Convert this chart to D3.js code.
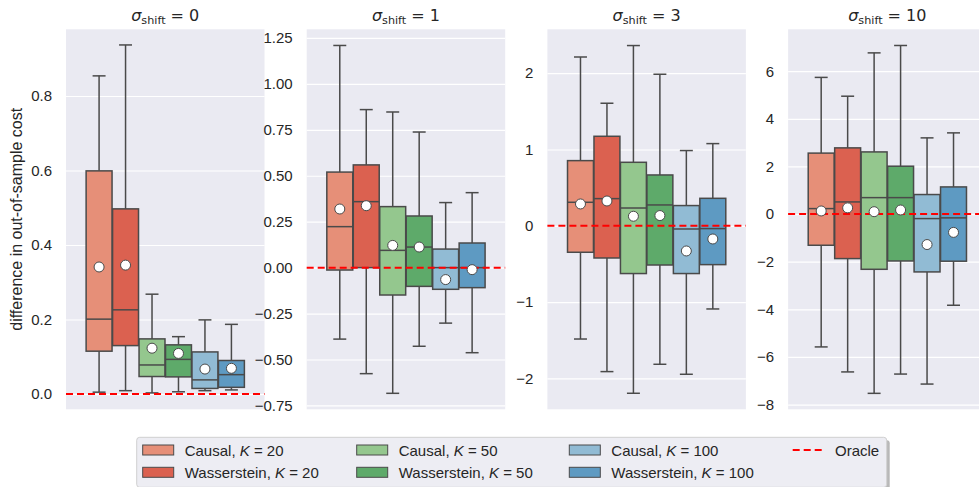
<!DOCTYPE html>
<html>
<head>
<meta charset="utf-8">
<script src="https://cdn.jsdelivr.net/npm/d3@7"></script>
<style>
body{margin:0;background:#fff}
svg{display:block;font-family:"Liberation Sans",Arial,sans-serif}
</style>
</head>
<body>
<svg id="chart" width="979" height="487"></svg>
<script>
// data
const shifts = [0, 1, 3, 10];
const methods = ["Causal", "Wasserstein", "Causal", "Wasserstein", "Causal", "Wasserstein"];
const kValues = [20, 20, 50, 50, 100, 100];

// one row per panel (sigma_shift), one value per method/K
const whiskLow = [
    [0.005, 0.009, 0.003, 0.006, 0.009, 0.011],
    [-0.389, -0.577, -0.684, -0.428, -0.302, -0.463],
    [-1.484, -1.911, -2.195, -1.815, -1.946, -1.090],
    [-5.58, -6.63, -7.53, -6.72, -7.14, -3.83]
];
const q1 = [
    [0.115, 0.130, 0.047, 0.046, 0.015, 0.018],
    [-0.013, 0.0, -0.149, -0.102, -0.118, -0.109],
    [-0.347, -0.422, -0.626, -0.514, -0.626, -0.509],
    [-1.31, -1.87, -2.32, -1.97, -2.43, -1.98]
];
const medians = [
    [0.201, 0.226, 0.078, 0.093, 0.038, 0.052],
    [0.223, 0.359, 0.094, 0.112, 0.0, 0.0],
    [0.308, 0.356, 0.233, 0.273, -0.042, -0.037],
    [0.23, 0.51, 0.69, 0.69, -0.19, -0.16]
];
const q3 = [
    [0.599, 0.497, 0.148, 0.132, 0.113, 0.090],
    [0.520, 0.559, 0.332, 0.281, 0.101, 0.134],
    [0.854, 1.173, 0.832, 0.666, 0.265, 0.360],
    [2.56, 2.78, 2.61, 2.01, 0.82, 1.14]
];
const whiskHigh = [
    [0.854, 0.937, 0.268, 0.154, 0.199, 0.187],
    [1.209, 0.860, 0.847, 0.738, 0.354, 0.408],
    [2.212, 1.606, 2.362, 1.986, 0.986, 1.077],
    [5.74, 4.95, 6.77, 7.08, 3.20, 3.41]
];
const means = [
    [0.341, 0.346, 0.123, 0.109, 0.067, 0.069],
    [0.319, 0.337, 0.121, 0.112, -0.065, -0.011],
    [0.286, 0.325, 0.125, 0.134, -0.330, -0.173],
    [0.13, 0.26, 0.10, 0.17, -1.28, -0.77]
];
const oracle = 0;

// axes
const yDomains = [[-0.041, 0.979], [-0.771, 1.297], [-2.405, 2.575], [-8.2, 7.76]];
const yTicks = [
    [0, 0.2, 0.4, 0.6, 0.8],
    [-0.75, -0.5, -0.25, 0, 0.25, 0.5, 0.75, 1.0, 1.25],
    [-2, -1, 0, 1, 2],
    [-8, -6, -4, -2, 0, 2, 4, 6]
];
const tickFormats = [".1f", ".2f", "d", "d"];

const colors = ["#E68F78", "#DB6150", "#94C78E", "#5EAA6A", "#91BBD4", "#5E9AC2"];
const edgeColor = "#4a4a4a";

const svg = d3.select("#chart");
const plotTop = 29.3, plotBottom = 409.3, panelW = 198.5, left0 = 66, step = 240.7;

shifts.forEach((s, p) => {
    const g = svg.append("g").attr("transform", `translate(${left0 + p * step},0)`);
    const y = d3.scaleLinear().domain(yDomains[p]).range([plotBottom, plotTop]);
    const x = d3.scaleLinear().domain([-0.5, 0.5]).range([0, panelW]);
    const band = d3.scaleBand().domain(d3.range(methods.length))
        .range([x(-0.4), x(0.4)]).paddingInner(0.02).paddingOuter(0.01);

    g.append("rect")
        .attr("x", 0).attr("y", plotTop)
        .attr("width", panelW).attr("height", plotBottom - plotTop)
        .attr("fill", "#EAEAF2");

    const ax = g.append("g")
        .call(d3.axisLeft(y).tickValues(yTicks[p]).tickSize(-panelW).tickPadding(14)
            .tickFormat(d3.format(tickFormats[p])));
    ax.select(".domain").remove();
    ax.selectAll(".tick line").attr("stroke", "#fff").attr("stroke-width", 1.2);
    ax.selectAll(".tick text")
        .attr("fill", "#262626")
        .style("font-size", "15px")
        .style("font-family", "'Liberation Sans',Arial,sans-serif");

    // title, matplotlib mathtext look
    const t = g.append("text")
        .attr("x", panelW / 2).attr("y", 21)
        .attr("text-anchor", "middle")
        .attr("fill", "#262626")
        .style("font-family", "'DejaVu Sans',sans-serif")
        .style("font-size", "16px");
    t.append("tspan").attr("font-style", "italic").text("σ");
    t.append("tspan").attr("dy", 3).style("font-size", "11.2px").text("shift");
    t.append("tspan").attr("dy", -3).text(` = ${s}`);

    const idx = d3.range(methods.length);
    const boxes = g.append("g").selectAll("g").data(idx).join("g");
    boxes.each(function(i) {
        const bx = d3.select(this);
        const x0 = band(i), bw = band.bandwidth(), cx = x0 + bw / 2;
        // whiskers
        bx.append("line").attr("x1", cx).attr("x2", cx)
            .attr("y1", y(q3[p][i])).attr("y2", y(whiskHigh[p][i]));
        bx.append("line").attr("x1", cx).attr("x2", cx)
            .attr("y1", y(q1[p][i])).attr("y2", y(whiskLow[p][i]));
        bx.append("line").attr("x1", cx - bw / 4).attr("x2", cx + bw / 4)
            .attr("y1", y(whiskHigh[p][i])).attr("y2", y(whiskHigh[p][i]));
        bx.append("line").attr("x1", cx - bw / 4).attr("x2", cx + bw / 4)
            .attr("y1", y(whiskLow[p][i])).attr("y2", y(whiskLow[p][i]));
        bx.selectAll("line").attr("stroke", edgeColor).attr("stroke-width", 1.5);
        bx.append("rect")
            .attr("x", x0).attr("width", bw)
            .attr("y", y(q3[p][i])).attr("height", y(q1[p][i]) - y(q3[p][i]))
            .attr("fill", colors[i])
            .attr("stroke", edgeColor).attr("stroke-width", 1.5);
        bx.append("line").attr("x1", x0).attr("x2", x0 + bw)
            .attr("y1", y(medians[p][i])).attr("y2", y(medians[p][i]))
            .attr("stroke", edgeColor).attr("stroke-width", 1.5);
    });

    g.append("line")
        .attr("x1", 0).attr("x2", panelW)
        .attr("y1", y(oracle)).attr("y2", y(oracle))
        .attr("stroke", "#ff0000").attr("stroke-width", 2)
        .attr("stroke-dasharray", "7,4");

    g.append("g").selectAll("circle").data(idx).join("circle")
        .attr("cx", i => band(i) + band.bandwidth() / 2)
        .attr("cy", i => y(means[p][i]))
        .attr("r", 5)
        .attr("fill", "#fff")
        .attr("stroke", edgeColor).attr("stroke-width", 1);
});

// y label
svg.append("text")
    .attr("transform", `translate(22,${(plotTop + plotBottom) / 2}) rotate(-90)`)
    .attr("text-anchor", "middle")
    .attr("fill", "#262626")
    .style("font-size", "16px")
    .text("difference in out-of-sample cost");

// legend
const leg = svg.append("g");
leg.append("rect").attr("x", 139.7).attr("y", 440.3).attr("width", 750).attr("height", 50)
    .attr("rx", 3).attr("fill", "#b8b8b8");
leg.append("rect").attr("x", 136.7).attr("y", 437.3).attr("width", 750).attr("height", 50)
    .attr("rx", 3).attr("fill", "#EDEDF3").attr("stroke", "#d0d0d0").attr("stroke-width", 1);

const colX = [142.7, 356.7, 569.3];
const rowY = [450, 472.3];
methods.forEach((m, i) => {
    const cx = colX[Math.floor(i / 2)], cy = rowY[i % 2];
    leg.append("rect").attr("x", cx).attr("y", cy - 5).attr("width", 31).attr("height", 10)
        .attr("fill", colors[i]).attr("stroke", edgeColor).attr("stroke-width", 1);
    const tx = leg.append("text").attr("x", cx + 42).attr("y", cy + 5.5)
        .attr("fill", "#262626").style("font-size", "15px");
    tx.append("tspan").text(`${m}, `);
    tx.append("tspan").attr("font-style", "italic").text("K");
    tx.append("tspan").text(` = ${kValues[i]}`);
});
leg.append("line").attr("x1", 792.7).attr("x2", 822.7).attr("y1", 450).attr("y2", 450)
    .attr("stroke", "#ff0000").attr("stroke-width", 2).attr("stroke-dasharray", "7,4");
leg.append("text").attr("x", 835).attr("y", 455.5)
    .attr("fill", "#262626").style("font-size", "15px").text("Oracle");
</script>
</body>
</html>
